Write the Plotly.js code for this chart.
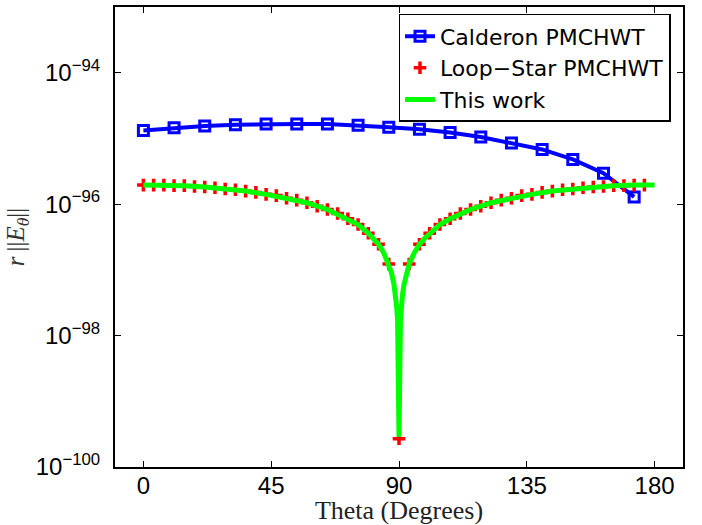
<!DOCTYPE html>
<html>
<head>
<meta charset="utf-8">
<script src="https://cdn.plot.ly/plotly-3.0.1.min.js"></script>
<style>html,body{margin:0;padding:0;background:#fff;}#chart{width:702px;height:525px;}</style>
</head>
<body>
<div id="chart"></div>
<script>
// Calderon PMCHWT (blue squares)
const calderonTheta = [0, 10.8, 21.6, 32.4, 43.2, 54, 64.8, 75.6, 86.4, 97.2, 108, 118.8, 129.6, 140.4, 151.2, 162, 172.8];
const calderonVals = [1.32e-95, 1.45e-95, 1.55e-95, 1.62e-95, 1.66e-95, 1.66e-95, 1.66e-95, 1.58e-95, 1.48e-95, 1.38e-95, 1.23e-95, 1.05e-95, 8.5e-96, 6.8e-96, 4.8e-96, 2.95e-96, 1.29e-96];

// Loop-Star PMCHWT (red crosses)
const loopStarTheta = [0, 3.6, 7.2, 10.8, 14.4, 18, 21.6, 25.2, 28.8, 32.4, 36, 39.6, 43.2, 46.8, 50.4, 54, 57.6, 61.2, 64.8, 68.4, 72, 75.6, 79.2, 82.8, 86.4, 90, 93.6, 97.2, 100.8, 104.4, 108, 111.6, 115.2, 118.8, 122.4, 126, 129.6, 133.2, 136.8, 140.4, 144, 147.6, 151.2, 154.8, 158.4, 162, 165.6, 169.2, 172.8, 176.4];
const loopStarVals = [1.95e-96, 1.95e-96, 1.95e-96, 1.91e-96, 1.91e-96, 1.86e-96, 1.82e-96, 1.78e-96, 1.70e-96, 1.66e-96, 1.58e-96, 1.51e-96, 1.41e-96, 1.35e-96, 1.23e-96, 1.15e-96, 1.05e-96, 9.3e-97, 8.3e-97, 7.2e-97, 6.0e-97, 4.9e-97, 3.6e-97, 2.45e-97, 1.23e-97, 2.7e-100, 1.23e-97, 2.45e-97, 3.6e-97, 4.9e-97, 6.0e-97, 7.2e-97, 8.3e-97, 9.3e-97, 1.05e-96, 1.15e-96, 1.23e-96, 1.35e-96, 1.41e-96, 1.51e-96, 1.58e-96, 1.66e-96, 1.70e-96, 1.78e-96, 1.82e-96, 1.86e-96, 1.91e-96, 1.91e-96, 1.95e-96, 1.95e-96];

// This work (green line)
const thisWorkTheta = [0, 7.2, 14.4, 21.6, 28.8, 36, 43.2, 50.4, 57.6, 64.8, 72, 75.6, 79.2, 81, 82.8, 84.6, 86.4, 87.3, 88.2, 88.8, 89.2, 89.5, 90, 90.5, 90.8, 91.2, 91.8, 92.7, 93.6, 95.4, 97.2, 99, 100.8, 104.4, 108, 115.2, 122.4, 129.6, 136.8, 144, 151.2, 158.4, 165.6, 172.8, 180];
const thisWorkVals = [1.95e-96, 1.95e-96, 1.91e-96, 1.82e-96, 1.70e-96, 1.58e-96, 1.41e-96, 1.23e-96, 1.05e-96, 8.3e-97, 6.0e-97, 4.9e-97, 3.6e-97, 3.0e-97, 2.45e-97, 1.83e-97, 1.23e-97, 9.2e-98, 6.1e-98, 4.1e-98, 2.7e-98, 1.7e-98, 2.9e-100, 1.7e-98, 2.7e-98, 4.1e-98, 6.1e-98, 9.2e-98, 1.23e-97, 1.83e-97, 2.45e-97, 3.0e-97, 3.6e-97, 4.9e-97, 6.0e-97, 8.3e-97, 1.05e-96, 1.23e-96, 1.41e-96, 1.58e-96, 1.70e-96, 1.82e-96, 1.91e-96, 1.95e-96, 1.95e-96];

const xTicks = [0, 45, 90, 135, 180];
const yTickVals = [1e-100, 1e-98, 1e-96, 1e-94];
const yTickText = ['10<sup>\u2212100</sup>', '10<sup>\u221298</sup>', '10<sup>\u221296</sup>', '10<sup>\u221294</sup>'];

const traces = [
  {
    x: calderonTheta, y: calderonVals, type: 'scatter', mode: 'lines+markers',
    name: 'Calderon PMCHWT',
    line: {color: '#0000ff', width: 4},
    marker: {symbol: 'square-open', size: 10, color: '#0000ff', line: {width: 3, color: '#0000ff'}}
  },
  {
    x: loopStarTheta, y: loopStarVals, type: 'scatter', mode: 'markers',
    name: 'Loop\u2212Star PMCHWT',
    marker: {symbol: 'cross-thin', size: 9, color: '#ff0000', line: {width: 3.5, color: '#ff0000'}}
  },
  {
    x: thisWorkTheta, y: thisWorkVals, type: 'scatter', mode: 'lines',
    name: 'This work',
    line: {color: '#00ff00', width: 5}
  }
];

const layout = {
  width: 702, height: 525,
  margin: {l: 115, r: 19, t: 7, b: 58},
  paper_bgcolor: '#fff', plot_bgcolor: '#fff',
  font: {family: 'Liberation Sans, Arial, sans-serif', size: 24, color: '#000'},
  showlegend: true,
  legend: {
    x: 0.978, y: 0.985, xanchor: 'right', yanchor: 'top',
    bgcolor: '#fff', bordercolor: '#000', borderwidth: 1.5,
    font: {family: 'DejaVu Sans, sans-serif', size: 22, color: '#000'}, itemwidth: 30, tracegroupgap: 0
  },
  xaxis: {
    range: [-10, 190], tickmode: 'array', tickvals: xTicks,
    ticks: 'inside', ticklen: 6, tickwidth: 1, tickcolor: '#000',
    showline: true, linecolor: '#000', linewidth: 2, mirror: 'ticks',
    showgrid: false, zeroline: false,
    ticklabelstandoff: -4,
    title: {text: 'Theta (Degrees)', font: {family: 'Liberation Serif, Times New Roman, serif', size: 26, color: '#222'}, standoff: 10}
  },
  yaxis: {
    type: 'log', range: [-100, -93], tickmode: 'array', tickvals: yTickVals, ticktext: yTickText,
    ticks: 'inside', ticklen: 6, tickwidth: 1, tickcolor: '#000',
    showline: true, linecolor: '#000', linewidth: 2, mirror: 'ticks',
    showgrid: false, zeroline: false,
    ticklabelstandoff: 8,
    title: {text: '<i>r</i>\u2009||<i>E</i><sub><i>\u03b8</i></sub>||', font: {family: 'Liberation Serif, Times New Roman, serif', size: 25, color: '#333'}, standoff: 4}
  }
};

Plotly.newPlot('chart', traces, layout, {displayModeBar: false, staticPlot: true});
</script>
</body>
</html>
